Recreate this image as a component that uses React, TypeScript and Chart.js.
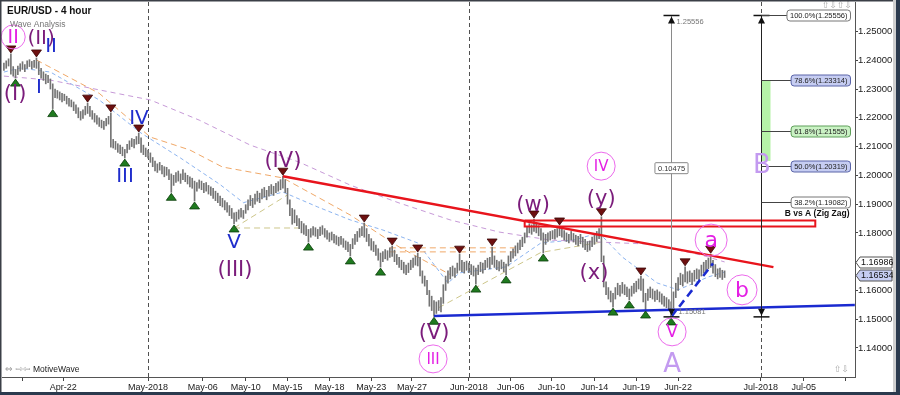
import React, { useEffect, useRef } from 'react';
import { Chart, registerables } from 'chart.js';

Chart.register(...registerables);

// ---------------- data ----------------
const FIRST_BAR_DATE = '2018-04-16';
const FIRST_BAR_SLOT = 4; // 4-hour slot of the first bar within its day
const BARS_PER_DAY = 6;
const SUNDAY_SHIFT = -0.08; // Sunday evening session sits just before Monday

const LOWS = [
  1.2365, 1.2372, 1.2380, 1.2352, 1.2345, 1.2338,
  1.2350, 1.2362, 1.2368, 1.2360, 1.2372, 1.2378,
  1.2370, 1.2375, 1.2372, 1.2350, 1.2338, 1.2330,
  1.2318, 1.2322, 1.2300, 1.2232, 1.2270, 1.2268,
  1.2262, 1.2255, 1.2260, 1.2248, 1.2240, 1.2238,
  1.2225, 1.2215, 1.2200, 1.2192, 1.2198, 1.2210,
  1.2215, 1.2205, 1.2195, 1.2185, 1.2178, 1.2170,
  1.2165, 1.2160, 1.2172, 1.2178, 1.2098, 1.2095,
  1.2090, 1.2080, 1.2075, 1.2068, 1.2060, 1.2078,
  1.2090, 1.2100, 1.2095, 1.2108, 1.2110, 1.2080,
  1.2072, 1.2065, 1.2060, 1.2045, 1.2030, 1.2015,
  1.2010, 1.2018, 1.2005, 1.1995, 1.2000, 1.1985,
  1.1941, 1.1965, 1.1975, 1.1980, 1.1972, 1.1985,
  1.1978, 1.1970, 1.1960, 1.1955, 1.1911, 1.1945,
  1.1955, 1.1950, 1.1940, 1.1945, 1.1935, 1.1930,
  1.1920, 1.1912, 1.1905, 1.1895, 1.1890, 1.1880,
  1.1872, 1.1860, 1.1850, 1.1831, 1.1840, 1.1848,
  1.1855, 1.1850, 1.1868, 1.1880, 1.1895, 1.1888,
  1.1900, 1.1910, 1.1905, 1.1918, 1.1925, 1.1915,
  1.1928, 1.1935, 1.1930, 1.1940, 1.1945, 1.1950,
  1.1955, 1.1940, 1.1900, 1.1860, 1.1830, 1.1835,
  1.1825, 1.1815, 1.1800, 1.1795, 1.1790, 1.1768,
  1.1785, 1.1792, 1.1788, 1.1780, 1.1790, 1.1795,
  1.1785, 1.1778, 1.1770, 1.1775, 1.1765, 1.1760,
  1.1755, 1.1760, 1.1750, 1.1742, 1.1735, 1.1720,
  1.1745, 1.1760, 1.1770, 1.1785, 1.1790, 1.1785,
  1.1770, 1.1755, 1.1740, 1.1735, 1.1722, 1.1705,
  1.1681, 1.1700, 1.1710, 1.1705, 1.1715, 1.1718,
  1.1700, 1.1690, 1.1680, 1.1672, 1.1660, 1.1655,
  1.1662, 1.1672, 1.1680, 1.1688, 1.1685, 1.1650,
  1.1625, 1.1615, 1.1585, 1.1545, 1.1530, 1.1510,
  1.1520, 1.1530, 1.1525, 1.1555, 1.1600, 1.1625,
  1.1640, 1.1650, 1.1645, 1.1660, 1.1670, 1.1665,
  1.1660, 1.1670, 1.1662, 1.1655, 1.1650, 1.1622,
  1.1655, 1.1665, 1.1660, 1.1672, 1.1680, 1.1675,
  1.1690, 1.1680, 1.1672, 1.1668, 1.1675, 1.1665,
  1.1654, 1.1685, 1.1700, 1.1712, 1.1720, 1.1730,
  1.1742, 1.1752, 1.1765, 1.1785, 1.1800, 1.1795,
  1.1805, 1.1800, 1.1790, 1.1775, 1.1730, 1.1760,
  1.1770, 1.1775, 1.1780, 1.1778, 1.1785, 1.1790,
  1.1785, 1.1775, 1.1770, 1.1765, 1.1775, 1.1768,
  1.1760, 1.1755, 1.1762, 1.1750, 1.1742, 1.1735,
  1.1740, 1.1752, 1.1760, 1.1770, 1.1780, 1.1700,
  1.1612, 1.1585, 1.1570, 1.1560, 1.1542, 1.1570,
  1.1585, 1.1580, 1.1590, 1.1585, 1.1578, 1.1567,
  1.1580, 1.1590, 1.1595, 1.1605, 1.1600, 1.1560,
  1.1532, 1.1565, 1.1575, 1.1570, 1.1562, 1.1568,
  1.1560, 1.1552, 1.1545, 1.1540, 1.1530, 1.1508,
  1.1540, 1.1575, 1.1600, 1.1620, 1.1615, 1.1630,
  1.1625, 1.1630, 1.1620, 1.1632, 1.1640, 1.1635,
  1.1650, 1.1660, 1.1668, 1.1675, 1.1680, 1.1660,
  1.1648, 1.1640, 1.1645, 1.1638, 1.1645,
];

const HIGHS = [
  1.2390, 1.2398, 1.2405, 1.2422, 1.2378, 1.2368,
  1.2380, 1.2388, 1.2395, 1.2385, 1.2398, 1.2402,
  1.2396, 1.2400, 1.2408, 1.2395, 1.2372, 1.2360,
  1.2352, 1.2348, 1.2335, 1.2318, 1.2300, 1.2295,
  1.2290, 1.2285, 1.2282, 1.2275, 1.2268, 1.2262,
  1.2255, 1.2245, 1.2235, 1.2222, 1.2228, 1.2240,
  1.2251, 1.2240, 1.2225, 1.2215, 1.2208, 1.2200,
  1.2192, 1.2188, 1.2198, 1.2205, 1.2217, 1.2125,
  1.2118, 1.2110, 1.2105, 1.2098, 1.2090, 1.2108,
  1.2120, 1.2128, 1.2125, 1.2135, 1.2147, 1.2130,
  1.2105, 1.2095, 1.2088, 1.2078, 1.2062, 1.2050,
  1.2040, 1.2045, 1.2035, 1.2030, 1.2028, 1.2020,
  1.2005, 1.2000, 1.2010, 1.2015, 1.2005, 1.2020,
  1.2008, 1.2000, 1.1995, 1.1990, 1.1980, 1.1975,
  1.1984, 1.1980, 1.1972, 1.1975, 1.1965, 1.1960,
  1.1955, 1.1945, 1.1938, 1.1928, 1.1920, 1.1912,
  1.1905, 1.1895, 1.1885, 1.1870, 1.1872, 1.1880,
  1.1885, 1.1878, 1.1898, 1.1915, 1.1930, 1.1920,
  1.1935, 1.1945, 1.1938, 1.1952, 1.1958, 1.1948,
  1.1962, 1.1968, 1.1962, 1.1972, 1.1978, 1.1985,
  1.1997, 1.1985, 1.1955, 1.1915, 1.1885, 1.1880,
  1.1860, 1.1850, 1.1840, 1.1832, 1.1825, 1.1812,
  1.1815, 1.1822, 1.1818, 1.1812, 1.1820, 1.1825,
  1.1815, 1.1808, 1.1800, 1.1803, 1.1795, 1.1790,
  1.1785, 1.1788, 1.1780, 1.1772, 1.1768, 1.1760,
  1.1780, 1.1795, 1.1805, 1.1815, 1.1822, 1.1834,
  1.1815, 1.1795, 1.1780, 1.1770, 1.1758, 1.1745,
  1.1730, 1.1735, 1.1742, 1.1738, 1.1748, 1.1754,
  1.1740, 1.1725, 1.1715, 1.1705, 1.1698, 1.1688,
  1.1695, 1.1705, 1.1712, 1.1720, 1.1730, 1.1715,
  1.1668, 1.1650, 1.1635, 1.1600, 1.1580, 1.1565,
  1.1560, 1.1565, 1.1575, 1.1620, 1.1650, 1.1668,
  1.1680, 1.1685, 1.1678, 1.1695, 1.1726, 1.1705,
  1.1698, 1.1702, 1.1695, 1.1690, 1.1685, 1.1678,
  1.1688, 1.1698, 1.1695, 1.1705, 1.1712, 1.1715,
  1.1751, 1.1720, 1.1705, 1.1700, 1.1706, 1.1698,
  1.1692, 1.1720, 1.1735, 1.1745, 1.1755, 1.1765,
  1.1775, 1.1785, 1.1800, 1.1820, 1.1832, 1.1828,
  1.1848, 1.1835, 1.1825, 1.1815, 1.1800, 1.1795,
  1.1800, 1.1805, 1.1808, 1.1812, 1.1815, 1.1824,
  1.1815, 1.1808, 1.1800, 1.1795, 1.1805, 1.1798,
  1.1792, 1.1788, 1.1795, 1.1785, 1.1778, 1.1770,
  1.1772, 1.1785, 1.1795, 1.1805, 1.1815, 1.1856,
  1.1720, 1.1630, 1.1610, 1.1598, 1.1590, 1.1610,
  1.1625, 1.1618, 1.1628, 1.1620, 1.1612, 1.1605,
  1.1615, 1.1625, 1.1632, 1.1640, 1.1650, 1.1640,
  1.1590, 1.1605, 1.1612, 1.1605, 1.1598, 1.1602,
  1.1595, 1.1588, 1.1580, 1.1575, 1.1568, 1.1560,
  1.1595, 1.1625, 1.1645, 1.1660, 1.1655, 1.1682,
  1.1665, 1.1668, 1.1660, 1.1670, 1.1675, 1.1672,
  1.1688, 1.1698, 1.1705, 1.1712, 1.1726, 1.1705,
  1.1690, 1.1675, 1.1678, 1.1670, 1.1668,
];

const X_TICK_DATES = [
  '2018-04-18', '2018-04-22', '2018-05-01', '2018-05-06', '2018-05-10', '2018-05-15',
  '2018-05-18', '2018-05-23', '2018-05-27', '2018-06-01', '2018-06-06', '2018-06-10',
  '2018-06-14', '2018-06-19', '2018-06-22', '2018-07-01', '2018-07-05', '2018-07-10',
];
const X_TICK_LABELS = [
  '', 'Apr-22', 'May-2018', 'May-06', 'May-10', 'May-15',
  'May-18', 'May-23', 'May-27', 'Jun-2018', 'Jun-06', 'Jun-10',
  'Jun-14', 'Jun-19', 'Jun-22', 'Jul-2018', 'Jul-05', '',
];
const MONTH_LINE_DATES = ['2018-05-01', '2018-06-01', '2018-07-01'];
const Y_TICKS = [1.14, 1.15, 1.16, 1.17, 1.18, 1.19, 1.2, 1.21, 1.22, 1.23, 1.24, 1.25];

const SWING_HIGH_BARS = [3, 14, 36, 46, 58, 120, 155, 167, 178, 196, 210, 228, 239, 257, 274, 293, 304];
const SWING_LOW_BARS = [5, 21, 52, 72, 82, 99, 131, 149, 162, 185, 203, 216, 232, 262, 269, 276, 287];

// indicator curves: [bar, price]
const MA_PURPLE = [[0, 1.2345], [20, 1.2331], [41, 1.2297], [63, 1.2262], [84, 1.2192], [106, 1.2105], [127, 1.2046], [149, 1.1966], [170, 1.1904], [192, 1.1845], [213, 1.1803], [235, 1.1775], [256, 1.1768], [278, 1.1761], [300, 1.1723], [310, 1.1699]];
const MA_BLUE = [[0, 1.2359], [7, 1.2373], [20, 1.2359], [41, 1.2262], [59, 1.2147], [76, 1.2060], [93, 1.1968], [103, 1.1905], [120, 1.1942], [135, 1.1890], [149, 1.1845], [163, 1.1810], [178, 1.1765], [191, 1.1626], [196, 1.1661], [216, 1.1682], [231, 1.1765], [245, 1.1775], [256, 1.1800], [266, 1.1716], [281, 1.1626], [290, 1.1602], [303, 1.1647], [310, 1.1664]];
const MA_ORANGE = [[14, 1.2401], [41, 1.2285], [63, 1.2133], [80, 1.2088], [94, 1.2029], [120, 1.1991], [149, 1.1862], [170, 1.1751], [192, 1.1655]];
const ORANGE_FLAT_UPPER = [[166, 1.1748], [222, 1.1748]];
const ORANGE_FLAT_LOWER = [[166, 1.1734], [222, 1.1734]];
const KHAKI_RISE = [[99, 1.1817], [122, 1.1932]];
const KHAKI_FLAT = [[99, 1.1817], [127, 1.1817]];
const KHAKI_LATE = [[187, 1.1540], [231, 1.1732], [257, 1.1768]];

const RED_TREND = [[120, 1.1997], [331, 1.1681]];
const BLUE_TREND = [[185, 1.1511], [366, 1.1549]];
const BLUE_DASH = [[287, 1.1508], [305, 1.1694]];
const RED_ZONE_BARS = [224, 349];
const RED_ZONE_PRICES = [1.1843, 1.1822];

const WAVE_A_HIGH = 1.25556;
const WAVE_A_LOW = 1.15081;
const MEASURE_BAR = 287;
const FIB_DATE = '2018-07-01';
const FIB_LEVELS = [100, 78.6, 61.8, 50, 38.2];
const FIB_PRICES = [1.25556, 1.23314, 1.21555, 1.20319, 1.19082];
const FIB_FILLS = ['#ffffff', '#c6cdf2', '#caf2c4', '#c6cdf2', '#ffffff'];
const FIB_BORDERS = ['#777777', '#5a64a8', '#5f9f5a', '#5a64a8', '#777777'];
const FIB_ZONE = [1.23314, 1.2050];
const AXIS_PRICE_LABELS = [1.16986, 1.16534];
const AXIS_PRICE_FILLS = ['#ffffff', '#c6cdf2'];

const PURPLE = '#7b1c7b';
const BLUE = '#1f2dcc';
const MAGENTA = '#e41fe4';
const LAVENDER = '#c39af0';

const WAVE_LABELS = [
  { t: 'II', bar: 4.0, p: 1.2481, c: MAGENTA, s: 19, r: 12 },
  { t: '(II)', bar: 16.0, p: 1.2477, c: PURPLE, s: 20 },
  { t: 'II', bar: 20.3, p: 1.2452, c: BLUE, s: 20 },
  { t: '(I)', bar: 4.8, p: 1.2283, c: PURPLE, s: 21 },
  { t: 'I', bar: 15.1, p: 1.2307, c: BLUE, s: 20 },
  { t: 'IV', bar: 58.1, p: 1.2199, c: BLUE, s: 20 },
  { t: 'III', bar: 52.1, p: 1.1998, c: BLUE, s: 20 },
  { t: 'V', bar: 99.0, p: 1.1768, c: BLUE, s: 20 },
  { t: '(III)', bar: 99.4, p: 1.1671, c: PURPLE, s: 21 },
  { t: '(IV)', bar: 120, p: 1.2053, c: PURPLE, s: 21 },
  { t: '(V)', bar: 185, p: 1.1452, c: PURPLE, s: 21 },
  { t: 'III', bar: 184.6, p: 1.1362, c: MAGENTA, s: 15, r: 14 },
  { t: '(w)', bar: 227.6, p: 1.1900, c: PURPLE, s: 21 },
  { t: 'IV', bar: 256.9, p: 1.2032, c: MAGENTA, s: 15, r: 14 },
  { t: '(y)', bar: 256.9, p: 1.1921, c: PURPLE, s: 21 },
  { t: '(x)', bar: 253.8, p: 1.1661, c: PURPLE, s: 21 },
  { t: 'a', bar: 304.2, p: 1.1775, c: MAGENTA, s: 22, r: 16 },
  { t: 'b', bar: 317.5, p: 1.1602, c: MAGENTA, s: 22, r: 15 },
  { t: 'V', bar: 287.4, p: 1.1456, c: MAGENTA, s: 17, r: 14 },
  { t: 'A', bar: 287.4, p: 1.1344, c: LAVENDER, s: 26 },
  { t: 'B', bar: 326, p: 1.2036, c: LAVENDER, s: 26 },
];

// ---------------- helpers ----------------
const DAY_MS = 86400000;
function weekdayCount(t: number): number {
  let n = 0;
  for (let u = Date.UTC(2018, 0, 1); u < t; u += DAY_MS) {
    const w = new Date(u).getUTCDay();
    if (w !== 0 && w !== 6) n++;
  }
  return n;
}
const BASE_COUNT = weekdayCount(Date.UTC(2018, 4, 1));
function tradingDay(s: string): number {
  const [y, m, d] = s.split('-').map(Number);
  let t = Date.UTC(y, m - 1, d);
  const w = new Date(t).getUTCDay();
  let adj = 0;
  if (w === 0) { t += DAY_MS; adj = SUNDAY_SHIFT; }
  else if (w === 6) { t += 2 * DAY_MS; }
  return weekdayCount(t) - BASE_COUNT + adj;
}
const FIRST_DAY = tradingDay(FIRST_BAR_DATE) + FIRST_BAR_SLOT / BARS_PER_DAY;
const dayOfBar = (i: number) => FIRST_DAY + i / BARS_PER_DAY;
const pts = (arr: number[][]) => arr.map(([b, p]) => ({ x: dayOfBar(b), y: p }));

const X_MIN = -10.47;
const X_MAX = 50.68;
const Y_MIN = 1.12991;
const Y_MAX = 1.26025;

const SANS = '"Liberation Sans", Arial, sans-serif';
const WAVE_FONT = '"DejaVu Sans", sans-serif';

function lineDs(data: number[][], color: string, width: number, dash: number[], order: number) {
  return {
    type: 'line', data: pts(data), borderColor: color, borderWidth: width, borderDash: dash,
    pointRadius: 0, fill: false, tension: 0, order,
  };
}

function tri(ctx: CanvasRenderingContext2D, x: number, tipY: number, up: boolean) {
  ctx.beginPath();
  if (up) {
    ctx.moveTo(x, tipY); ctx.lineTo(x - 5, tipY + 7); ctx.lineTo(x + 5, tipY + 7);
    ctx.fillStyle = '#1f7a1f'; ctx.strokeStyle = '#0b3d0b';
  } else {
    ctx.moveTo(x, tipY); ctx.lineTo(x - 5, tipY - 7); ctx.lineTo(x + 5, tipY - 7);
    ctx.fillStyle = '#6e1010'; ctx.strokeStyle = '#3a0505';
  }
  ctx.closePath();
  ctx.fill();
  ctx.lineWidth = 0.8;
  ctx.stroke();
}

function capArrow(ctx: CanvasRenderingContext2D, x: number, y: number, top: boolean) {
  ctx.strokeStyle = '#111'; ctx.lineWidth = 1.5;
  ctx.beginPath(); ctx.moveTo(x - 8, y); ctx.lineTo(x + 8, y); ctx.stroke();
  ctx.fillStyle = '#111';
  ctx.beginPath();
  if (top) { ctx.moveTo(x, y + 1); ctx.lineTo(x - 3.5, y + 8); ctx.lineTo(x + 3.5, y + 8); }
  else { ctx.moveTo(x, y - 1); ctx.lineTo(x - 3.5, y - 8); ctx.lineTo(x + 3.5, y - 8); }
  ctx.closePath(); ctx.fill();
}

function roundBox(ctx: CanvasRenderingContext2D, x: number, y: number, w: number, h: number, r: number, fill: string, stroke: string) {
  ctx.beginPath();
  ctx.moveTo(x + r, y);
  ctx.lineTo(x + w - r, y); ctx.quadraticCurveTo(x + w, y, x + w, y + r);
  ctx.lineTo(x + w, y + h - r); ctx.quadraticCurveTo(x + w, y + h, x + w - r, y + h);
  ctx.lineTo(x + r, y + h); ctx.quadraticCurveTo(x, y + h, x, y + h - r);
  ctx.lineTo(x, y + r); ctx.quadraticCurveTo(x, y, x + r, y);
  ctx.closePath();
  ctx.fillStyle = fill; ctx.fill();
  ctx.strokeStyle = stroke; ctx.lineWidth = 1; ctx.stroke();
}

const overlay = {
  id: 'overlay',
  beforeDraw(chart: any) {
    const ctx = chart.ctx;
    ctx.save();
    ctx.fillStyle = '#ffffff';
    ctx.fillRect(0, 0, chart.width, chart.height);
    ctx.restore();
  },
  beforeDatasetsDraw(chart: any) {
    const { ctx, chartArea } = chart;
    const xs = chart.scales.x;
    ctx.save();
    ctx.strokeStyle = '#505050'; ctx.lineWidth = 1; ctx.setLineDash([4, 3]);
    MONTH_LINE_DATES.forEach((d) => {
      const x = Math.round(xs.getPixelForValue(tradingDay(d))) + 0.5;
      ctx.beginPath(); ctx.moveTo(x, chartArea.top); ctx.lineTo(x, chartArea.bottom); ctx.stroke();
    });
    ctx.setLineDash([]);
    // fib support zone
    const ys = chart.scales.y;
    const fx = Math.round(xs.getPixelForValue(tradingDay(FIB_DATE))) + 0.5;
    const z0 = ys.getPixelForValue(FIB_ZONE[0]);
    const z1 = ys.getPixelForValue(FIB_ZONE[1]);
    ctx.fillStyle = '#b6f2a8';
    ctx.fillRect(fx, z0, 9, z1 - z0);
    ctx.restore();
  },
  afterDatasetsDraw(chart: any) {
    const { ctx } = chart;
    const xs = chart.scales.x, ys = chart.scales.y;
    const X = (b: number) => xs.getPixelForValue(dayOfBar(b));
    const Y = (p: number) => ys.getPixelForValue(p);
    ctx.save();

    // measurement line of wave A
    const mx = Math.round(X(MEASURE_BAR)) + 0.5;
    const yTop = Y(WAVE_A_HIGH), yBot = Y(WAVE_A_LOW);
    ctx.strokeStyle = '#8a8a8a'; ctx.lineWidth = 1;
    ctx.beginPath(); ctx.moveTo(mx, yTop); ctx.lineTo(mx, yBot); ctx.stroke();
    capArrow(ctx, mx, yTop, true);
    capArrow(ctx, mx, yBot, false);
    ctx.font = `7.5px ${SANS}`; ctx.fillStyle = '#777'; ctx.textAlign = 'left'; ctx.textBaseline = 'middle';
    ctx.fillText(WAVE_A_HIGH.toFixed(5), mx + 5, yTop + 6);
    ctx.fillText(WAVE_A_LOW.toFixed(5), mx + 7, yBot - 5);
    const rangeTxt = (WAVE_A_HIGH - WAVE_A_LOW).toFixed(5);
    ctx.font = `7.5px ${SANS}`;
    const rw = ctx.measureText(rangeTxt).width + 6;
    const rmY = (yTop + yBot) / 2 + 2;
    roundBox(ctx, mx - rw / 2, rmY - 5.5, rw, 11, 1, '#ffffff', '#888');
    ctx.fillStyle = '#333'; ctx.textAlign = 'center';
    ctx.fillText(rangeTxt, mx, rmY + 0.5);

    // fibonacci retracement
    const fx = Math.round(xs.getPixelForValue(tradingDay(FIB_DATE))) + 0.5;
    ctx.strokeStyle = '#222'; ctx.lineWidth = 1;
    ctx.beginPath(); ctx.moveTo(fx, yTop); ctx.lineTo(fx, yBot); ctx.stroke();
    capArrow(ctx, fx, yTop, true);
    capArrow(ctx, fx, yBot, false);
    FIB_LEVELS.forEach((lv, k) => {
      const y = Math.round(Y(FIB_PRICES[k])) + 0.5;
      const txt = `${lv.toFixed(1)}%(${FIB_PRICES[k].toFixed(5)})`;
      ctx.font = `7.5px ${SANS}`;
      const w = ctx.measureText(txt).width + 6;
      const right = fx + 89;
      const left = right - w;
      ctx.strokeStyle = '#444'; ctx.lineWidth = 1;
      ctx.beginPath(); ctx.moveTo(fx, y); ctx.lineTo(left, y); ctx.stroke();
      roundBox(ctx, left, y - 5.5, w, 11, 3, FIB_FILLS[k], FIB_BORDERS[k]);
      ctx.fillStyle = '#222'; ctx.textAlign = 'left'; ctx.textBaseline = 'middle';
      ctx.fillText(txt, left + 3, y + 0.5);
    });
    ctx.font = `bold 8.5px ${SANS}`; ctx.fillStyle = '#111'; ctx.textAlign = 'right';
    ctx.fillText('B vs A (Zig Zag)', fx + 88, Y(FIB_PRICES[4]) + 12);

    // swing markers
    SWING_HIGH_BARS.forEach((b) => tri(ctx, X(b), Y(HIGHS[b]) - 1, false));
    SWING_LOW_BARS.forEach((b) => tri(ctx, X(b), Y(LOWS[b]) + 1, true));

    // wave labels
    WAVE_LABELS.forEach((l: any) => {
      const x = X(l.bar), y = Y(l.p);
      if (l.r) {
        ctx.beginPath(); ctx.arc(x, y, l.r, 0, Math.PI * 2);
        ctx.strokeStyle = '#ec6aec'; ctx.lineWidth = 1; ctx.stroke();
      }
      ctx.font = `${l.s}px ${WAVE_FONT}`; ctx.fillStyle = l.c;
      ctx.textAlign = 'center'; ctx.textBaseline = 'middle';
      ctx.fillText(l.t, x, y + 1);
    });
    ctx.restore();
  },
  afterDraw(chart: any) {
    const { ctx, chartArea } = chart;
    const ys = chart.scales.y;
    ctx.save();
    // price flags on the axis
    AXIS_PRICE_LABELS.forEach((p, k) => {
      const y = Math.round(ys.getPixelForValue(p)) + 0.5;
      const x0 = chartArea.right + 1;
      ctx.beginPath();
      ctx.moveTo(x0, y); ctx.lineTo(x0 + 4, y - 5.5); ctx.lineTo(892, y - 5.5);
      ctx.lineTo(892, y + 5.5); ctx.lineTo(x0 + 4, y + 5.5); ctx.closePath();
      ctx.fillStyle = AXIS_PRICE_FILLS[k]; ctx.fill();
      ctx.strokeStyle = '#555'; ctx.lineWidth = 1; ctx.stroke();
      ctx.font = `9px ${SANS}`; ctx.fillStyle = '#111'; ctx.textAlign = 'left'; ctx.textBaseline = 'middle';
      ctx.fillText(p.toFixed(5), x0 + 5, y + 0.5);
    });
    // title
    ctx.textAlign = 'left'; ctx.textBaseline = 'middle';
    ctx.font = `bold 10px ${SANS}`; ctx.fillStyle = '#111';
    ctx.fillText('EUR/USD - 4 hour', 7, 11.5);
    ctx.font = `8.5px ${SANS}`; ctx.fillStyle = '#777';
    ctx.fillText('Wave Analysis', 10, 24.5);
    // footer
    ctx.font = `9px "DejaVu Sans", sans-serif`; ctx.fillStyle = '#999';
    ctx.fillText('⇔ ⇨⇦', 5, 370);
    ctx.font = `8.5px ${SANS}`; ctx.fillStyle = '#222';
    ctx.fillText('MotiveWave', 33, 370);
    ctx.font = `9px "DejaVu Sans", sans-serif`; ctx.fillStyle = '#aaa';
    ctx.fillText('⇧⇩', 834, 370);
    ctx.fillText('⇧⇩⇧⇩', 822, 6);
    // frame
    ctx.fillStyle = '#3b3f47';
    ctx.fillRect(0, 0, 1.5, chart.height);
    ctx.fillRect(0, 0, chart.width, 1.5);
    ctx.fillStyle = '#cfcfcf';
    ctx.fillRect(893, 0, 3, chart.height);
    ctx.fillStyle = '#2b3a4e';
    ctx.fillRect(896, 0, 4, chart.height);
    ctx.fillRect(0, 392, chart.width, 3);
    ctx.restore();
  },
};

export default function App() {
  const ref = useRef<HTMLCanvasElement | null>(null);
  useEffect(() => {
    document.body.style.margin = '0';
    const canvas = ref.current;
    if (!canvas) return;
    const bars = LOWS.map((l, i) => ({ x: dayOfBar(i), y: [l, HIGHS[i]] }));
    const zone = [
      [RED_ZONE_BARS[0], RED_ZONE_PRICES[0]], [RED_ZONE_BARS[1], RED_ZONE_PRICES[0]],
      [RED_ZONE_BARS[1], RED_ZONE_PRICES[1]], [RED_ZONE_BARS[0], RED_ZONE_PRICES[1]],
      [RED_ZONE_BARS[0], RED_ZONE_PRICES[0]],
    ];
    const chart = new Chart(canvas, {
      type: 'bar',
      data: {
        datasets: [
          lineDs(MA_PURPLE, '#c79ad8', 1, [5, 4], 9),
          lineDs(MA_ORANGE, '#f0a868', 1, [6, 4], 9),
          lineDs(ORANGE_FLAT_UPPER, '#f0a868', 1, [6, 4], 9),
          lineDs(ORANGE_FLAT_LOWER, '#f0a868', 1, [6, 4], 9),
          lineDs(MA_BLUE, '#8cb4f0', 1, [4, 3], 9),
          lineDs(KHAKI_RISE, '#cdc68a', 1, [6, 4], 9),
          lineDs(KHAKI_FLAT, '#cdc68a', 1, [6, 4], 9),
          lineDs(KHAKI_LATE, '#cdc68a', 1, [6, 4], 9),
          {
            type: 'bar', data: bars, backgroundColor: '#747474', borderWidth: 0,
            barThickness: 1, grouped: false, order: 6,
          },
          lineDs(zone, '#e8141c', 2, [], 3),
          lineDs(RED_TREND, '#e8141c', 2.5, [], 2),
          lineDs(BLUE_TREND, '#1a2ad0', 2.5, [], 2),
          lineDs(BLUE_DASH, '#1a2ad0', 2.5, [8, 5], 2),
        ] as any,
      },
      options: {
        responsive: false,
        animation: false,
        events: [],
        layout: { padding: { left: 2, top: 2, right: 0, bottom: 0 } },
        plugins: { legend: { display: false }, tooltip: { enabled: false } },
        scales: {
          x: {
            type: 'linear', min: X_MIN, max: X_MAX, offset: false, bounds: 'data',
            grid: { drawOnChartArea: false, drawTicks: true, tickLength: 4, color: '#444', offset: false },
            border: { display: true, color: '#555' },
            ticks: {
              autoSkip: false, maxRotation: 0, minRotation: 0, padding: 1, color: '#1a1a1a',
              font: { family: SANS, size: 9 },
              callback: (_v: any, i: number) => X_TICK_LABELS[i] ?? '',
            },
            afterBuildTicks: (s: any) => { s.ticks = X_TICK_DATES.map((d) => ({ value: tradingDay(d) })); },
            afterFit: (s: any) => { s.height = 18; s.paddingLeft = 0; s.paddingRight = 0; },
          },
          y: {
            type: 'linear', position: 'right', min: Y_MIN, max: Y_MAX, bounds: 'data',
            grid: { drawOnChartArea: false, drawTicks: true, tickLength: 3, color: '#444' },
            border: { display: true, color: '#555' },
            ticks: {
              padding: 0, color: '#1a1a1a', font: { family: SANS, size: 9.5 },
              callback: (v: any) => Number(v).toFixed(5),
            },
            afterBuildTicks: (s: any) => { s.ticks = Y_TICKS.map((v) => ({ value: v })); },
            afterFit: (s: any) => { s.width = 45; s.paddingTop = 0; s.paddingBottom = 0; },
          },
        },
      } as any,
      plugins: [overlay],
    });
    return () => chart.destroy();
  }, []);
  return <canvas ref={ref} width={900} height={395} style={{ display: 'block' }} />;
}
